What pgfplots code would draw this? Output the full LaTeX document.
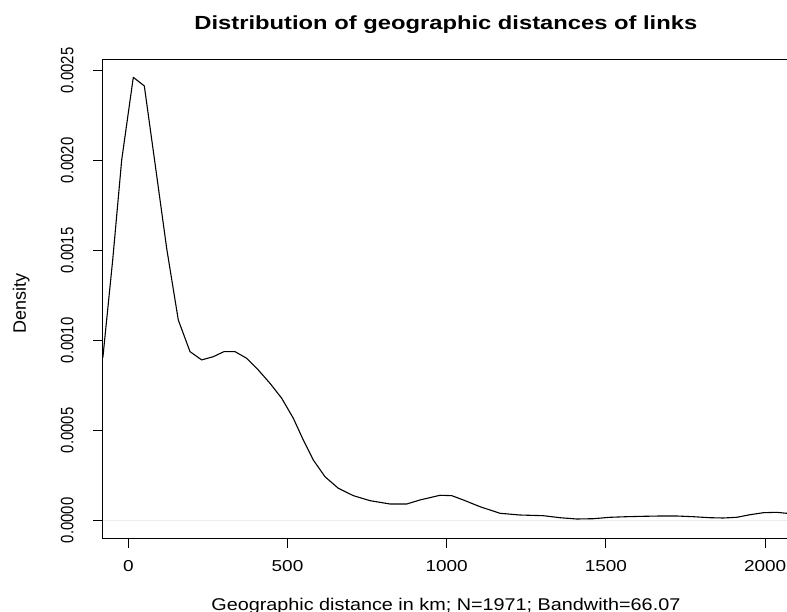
\documentclass[border=0pt]{standalone}
\usepackage{pgfplots}
\pgfplotsset{compat=1.18}
\usepackage{pgfplotstable}
\usepackage{fontspec}
\setmainfont{Liberation Sans}
\newfontfamily\tickfont{Liberation Sans}[FakeStretch=1.2]
\newfontfamily\labfont{Liberation Sans}[FakeStretch=1.165]
\newfontfamily\titlefont{Liberation Sans}[FakeStretch=1.25]

% kernel density estimate
\pgfplotstableread{
x y
-80 0.000902
-49 0.001446
-20.7 0.002002
15.7 0.002461
50.3 0.002413
83.9 0.001983
120.6 0.00151
157 0.001113
193.8 0.000937
230.5 0.000891
267 0.000909
300.6 0.000937
335.1 0.000937
371.9 0.000900
408.3 0.000835
445 0.000761
481.8 0.000678
518.2 0.000567
549.6 0.000446
581 0.000335
617.8 0.000242
659.5 0.000178
706.7 0.000137
759.1 0.000109
821.9 0.0000906
874.4 0.0000906
916.2 0.000113
979 0.000139
1015.7 0.000137
1052.1 0.000113
1104.6 0.0000756
1167.4 0.0000389
1230.2 0.0000294
1303.4 0.0000256
1355.8 0.0000144
1408.3 0.0000072
1460.4 0.0000089
1512.9 0.0000167
1565.3 0.00002
1617.4 0.0000222
1669.9 0.0000239
1722.3 0.0000239
1774.5 0.00002
1826.9 0.0000144
1868.7 0.0000128
1910.8 0.0000167
1952.6 0.0000311
1994.4 0.0000422
2036.4 0.0000444
2067.9 0.0000389
2090 0.000035
}\density

\begin{document}
\begin{tikzpicture}[x=1pt,y=1pt]
\useasboundingbox (0,0) rectangle (787,611);
\begin{axis}[
  at={(102.7pt,72.7pt)}, anchor=south west,
  width=686.3pt, height=479pt, scale only axis,
  xmin=-80.4, xmax=2075,
  ymin=-0.0001, ymax=0.002561,
  xtick={0,500,1000,1500,2000},
  ytick={0,0.0005,0.001,0.0015,0.002,0.0025},
  xtick pos=left, ytick pos=left,
  scaled y ticks=false,
  tick align=outside, major tick length=9.5pt,
  tick style={black, line width=1pt},
  axis line style={black, line width=1pt},
  /pgf/number format/assume math mode=true,
  /pgf/number format/1000 sep={},
  xticklabel style={font=\tickfont\fontsize{15.8}{15.8}\selectfont, anchor=base},
  xticklabel shift=23.9pt,
  yticklabel={\scalebox{1}[1.2]{\pgfmathprintnumber[fixed,fixed zerofill,precision=4]{\tick}}},
  yticklabel style={font=\fontsize{14.9}{14.9}\selectfont, rotate=90, anchor=base},
  yticklabel shift=19.9pt,
  every axis title shift=0pt,
  title={Distribution of geographic distances of links},
  title style={font=\titlefont\bfseries\fontsize{19}{19}\selectfont,
    at={(axis description cs:0.5,1)}, anchor=base, yshift=29.3pt},
  xlabel={Geographic distance in km; N=1971; Bandwith=66.07},
  xlabel style={font=\labfont\fontsize{17}{17}\selectfont,
    at={(axis description cs:0.5,0)}, anchor=base, yshift=-71.7pt},
  ylabel={Density},
  ylabel style={font=\fontsize{18}{18}\selectfont,
    at={(axis description cs:-0.1118,0.491)}, rotate=0, anchor=base},
]
  \addplot[gray!15, line width=1pt, forget plot] coordinates {(-80.4,0) (2075,0)};
  \addplot[black, line width=1.1pt, line join=round] table {\density};
\end{axis}
\end{tikzpicture}
\end{document}
